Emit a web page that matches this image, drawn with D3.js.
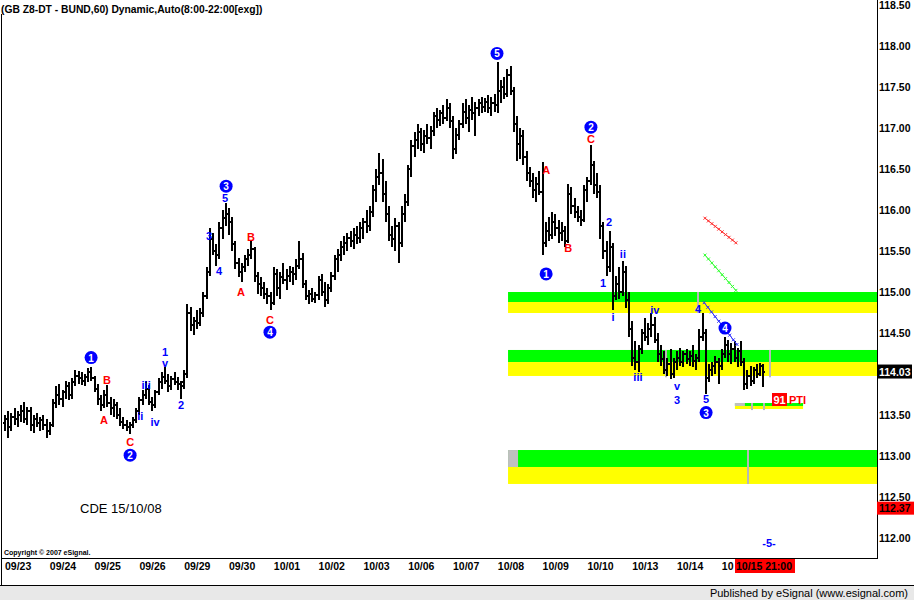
<!DOCTYPE html>
<html><head><meta charset="utf-8">
<script src="https://cdn.jsdelivr.net/npm/d3@7"></script>
<style>
html,body{margin:0;padding:0;background:#fff;}
svg{display:block;font-family:"Liberation Sans",Arial,sans-serif;}
</style></head><body>
<svg id="c" width="914" height="600"></svg>
<script>
// ---------------- DATA ----------------
const dateLabels = ["09/23","09/24","09/25","09/26","09/29","09/30","10/01","10/02","10/03","10/06","10/07","10/08","10/09","10/10","10/13","10/14","10/15"];
// hourly OHLC bars per session (8:00 .. 21:00), [open, high, low, close]
const bars0923 = [[113.40,113.50,113.30,113.45],[113.45,113.55,113.22,113.35],[113.35,113.52,113.30,113.48],[113.48,113.58,113.38,113.45],[113.45,113.55,113.35,113.50],[113.50,113.62,113.42,113.55],[113.55,113.66,113.40,113.45],[113.45,113.60,113.38,113.55],[113.55,113.60,113.30,113.38],[113.38,113.50,113.28,113.45],[113.45,113.52,113.35,113.40],[113.40,113.48,113.30,113.44],[113.44,113.50,113.32,113.38],[113.38,113.45,113.22,113.30]];
const bars0924 = [[113.30,113.42,113.25,113.38],[113.38,113.70,113.35,113.65],[113.65,113.85,113.58,113.75],[113.75,113.88,113.62,113.70],[113.70,113.80,113.60,113.78],[113.78,113.92,113.70,113.85],[113.85,113.90,113.68,113.74],[113.74,113.95,113.70,113.90],[113.90,114.05,113.85,113.98],[113.98,114.04,113.88,113.95],[113.95,114.02,113.86,113.92],[113.92,114.00,113.85,113.96],[113.96,114.07,113.90,114.02],[114.02,114.08,113.92,113.95]];
const bars0925 = [[113.95,113.98,113.78,113.82],[113.82,113.88,113.62,113.70],[113.70,113.75,113.55,113.62],[113.62,113.80,113.58,113.75],[113.75,113.86,113.60,113.65],[113.65,113.72,113.50,113.58],[113.58,113.70,113.48,113.62],[113.62,113.66,113.45,113.50],[113.50,113.58,113.36,113.42],[113.42,113.48,113.33,113.38],[113.38,113.44,113.30,113.35],[113.35,113.42,113.27,113.38],[113.38,113.48,113.34,113.44],[113.44,113.58,113.40,113.55]];
const bars0926 = [[113.55,113.72,113.50,113.68],[113.68,113.80,113.62,113.75],[113.75,113.92,113.70,113.82],[113.82,113.86,113.62,113.66],[113.66,113.72,113.55,113.62],[113.62,113.80,113.58,113.78],[113.78,113.95,113.74,113.90],[113.90,114.02,113.82,113.96],[113.96,114.08,113.88,113.92],[113.92,114.00,113.78,113.85],[113.85,113.98,113.80,113.94],[113.94,114.02,113.86,113.90],[113.90,113.96,113.80,113.88],[113.88,113.92,113.70,113.85]];
const bars0929 = [[113.90,114.05,113.82,114.00],[114.00,114.85,113.95,114.75],[114.75,114.82,114.52,114.60],[114.60,114.70,114.48,114.65],[114.65,114.78,114.55,114.62],[114.62,114.80,114.58,114.75],[114.75,115.00,114.70,114.95],[114.95,115.30,114.92,115.25],[115.25,115.78,115.20,115.65],[115.65,115.72,115.45,115.50],[115.50,115.58,115.32,115.45],[115.45,115.85,115.40,115.78],[115.78,116.00,115.65,115.90],[115.90,116.08,115.80,115.95]];
const bars0930 = [[115.95,116.02,115.70,115.85],[115.85,115.92,115.50,115.58],[115.58,115.62,115.28,115.35],[115.35,115.42,115.18,115.25],[115.25,115.35,115.12,115.30],[115.30,115.45,115.25,115.40],[115.40,115.52,115.32,115.45],[115.45,115.62,115.40,115.52],[115.52,115.55,115.12,115.20],[115.20,115.25,114.98,115.10],[115.10,115.18,114.95,115.05],[115.05,115.12,114.92,114.98],[114.98,115.05,114.85,114.95],[114.95,115.00,114.78,114.86]];
const bars1001 = [[114.86,115.30,114.84,115.22],[115.22,115.28,114.95,115.05],[115.05,115.25,114.92,115.18],[115.18,115.35,115.10,115.15],[115.15,115.28,115.02,115.20],[115.20,115.32,115.12,115.25],[115.25,115.30,115.08,115.22],[115.22,115.40,115.15,115.32],[115.32,115.62,115.28,115.40],[115.40,115.48,115.05,115.10],[115.10,115.15,114.90,114.95],[114.95,115.02,114.85,114.98],[114.98,115.05,114.88,114.92],[114.92,115.00,114.86,114.96]];
const bars1002 = [[114.96,115.20,114.90,115.15],[115.15,115.22,114.95,115.00],[115.00,115.12,114.82,114.90],[114.90,115.10,114.85,115.05],[115.05,115.25,115.00,115.20],[115.20,115.45,115.15,115.40],[115.40,115.52,115.25,115.45],[115.45,115.62,115.38,115.55],[115.55,115.68,115.45,115.60],[115.60,115.72,115.50,115.66],[115.66,115.75,115.55,115.62],[115.62,115.78,115.52,115.70],[115.70,115.80,115.58,115.66],[115.66,115.85,115.60,115.78]];
const bars1003 = [[115.78,115.90,115.65,115.85],[115.85,116.00,115.72,115.80],[115.80,116.05,115.75,115.98],[115.98,116.30,115.92,116.25],[116.25,116.50,116.10,116.40],[116.40,116.70,116.30,116.45],[116.45,116.62,116.10,116.20],[116.20,116.35,115.85,115.95],[115.95,116.05,115.62,115.70],[115.70,115.80,115.55,115.65],[115.65,115.90,115.50,115.80],[115.80,115.85,115.35,115.60],[115.60,116.05,115.55,115.95],[115.95,116.20,115.85,116.10]];
const bars1006 = [[116.10,116.55,116.05,116.50],[116.50,116.85,116.40,116.78],[116.78,116.95,116.65,116.85],[116.85,117.05,116.75,116.95],[116.95,117.00,116.72,116.80],[116.80,116.98,116.70,116.90],[116.90,117.05,116.80,116.88],[116.88,117.02,116.75,116.96],[116.96,117.20,116.90,117.15],[117.15,117.25,117.00,117.10],[117.10,117.22,117.02,117.18],[117.18,117.28,117.05,117.12],[117.12,117.35,117.08,117.25],[117.25,117.30,117.00,117.08]];
const bars1007 = [[117.08,117.15,116.62,116.75],[116.75,117.00,116.68,116.92],[116.92,117.10,116.85,117.05],[117.05,117.30,117.00,117.20],[117.20,117.35,117.05,117.12],[117.12,117.28,116.95,117.22],[117.22,117.38,117.10,117.18],[117.18,117.32,116.90,117.25],[117.25,117.35,117.15,117.30],[117.30,117.38,117.18,117.26],[117.26,117.36,117.20,117.32],[117.32,117.40,117.18,117.25],[117.25,117.38,117.15,117.30],[117.30,117.42,117.20,117.28]];
const bars1008 = [[117.28,117.80,117.18,117.45],[117.45,117.58,117.30,117.50],[117.50,117.62,117.35,117.42],[117.42,117.72,117.38,117.65],[117.65,117.75,117.40,117.45],[117.45,117.50,116.95,117.05],[117.05,117.15,116.60,116.80],[116.80,117.00,116.62,116.90],[116.90,116.98,116.55,116.65],[116.65,116.72,116.35,116.45],[116.45,116.52,116.28,116.35],[116.35,116.45,116.15,116.25],[116.25,116.40,116.10,116.32],[116.32,116.48,116.18,116.22]];
const bars1009 = [[116.22,116.58,115.45,115.60],[115.60,115.85,115.55,115.75],[115.75,115.92,115.62,115.70],[115.70,115.98,115.65,115.85],[115.85,115.95,115.68,115.78],[115.78,115.88,115.60,115.72],[115.72,115.85,115.62,115.75],[115.75,115.80,115.55,115.62],[115.62,116.32,115.60,116.20],[116.20,116.28,115.95,116.05],[116.05,116.15,115.90,115.98],[115.98,116.05,115.85,115.92],[115.92,116.00,115.80,115.88],[115.88,116.30,115.85,116.25]];
const bars1010 = [[116.25,116.40,116.10,116.35],[116.35,116.79,116.30,116.55],[116.55,116.60,116.20,116.30],[116.30,116.45,116.15,116.22],[116.22,116.30,115.65,115.80],[115.80,115.85,115.40,115.50],[115.50,115.62,115.20,115.30],[115.30,115.75,115.25,115.55],[115.55,115.60,114.78,114.95],[114.95,115.20,114.90,115.10],[115.10,115.30,114.92,115.00],[115.00,115.38,114.95,115.25],[115.25,115.32,114.80,114.90],[114.90,115.00,114.45,114.55]];
const bars1013 = [[114.55,114.65,114.10,114.20],[114.20,114.40,114.05,114.15],[114.15,114.35,114.03,114.30],[114.30,114.55,114.25,114.50],[114.50,114.68,114.40,114.45],[114.45,114.62,114.35,114.55],[114.55,114.74,114.45,114.60],[114.60,114.70,114.38,114.42],[114.42,114.50,114.15,114.25],[114.25,114.35,114.10,114.18],[114.18,114.28,114.00,114.05],[114.05,114.20,113.98,114.12],[114.12,114.30,113.94,114.00],[114.00,114.20,113.95,114.15]];
const bars1014 = [[114.15,114.28,114.05,114.20],[114.20,114.32,114.10,114.15],[114.15,114.28,114.08,114.24],[114.24,114.30,114.12,114.18],[114.18,114.28,114.10,114.22],[114.22,114.35,114.08,114.16],[114.16,114.25,114.05,114.20],[114.20,114.55,114.15,114.45],[114.45,114.74,114.40,114.50],[114.50,114.55,113.76,113.95],[113.95,114.12,113.90,114.05],[114.05,114.15,113.98,114.10],[114.10,114.22,114.00,114.15],[114.15,114.20,113.88,114.10]];
const bars1015 = [[114.10,114.30,114.05,114.25],[114.25,114.45,114.20,114.35],[114.35,114.42,114.15,114.25],[114.25,114.38,114.12,114.30],[114.30,114.40,114.15,114.20],[114.20,114.32,114.08,114.28],[114.28,114.40,114.10,114.15],[114.15,114.20,113.80,113.88],[113.88,114.05,113.82,113.98],[113.98,114.10,113.85,113.92],[113.92,114.08,113.88,114.05],[114.05,114.12,113.95,114.00],[114.00,114.14,113.98,114.10],[114.10,114.12,113.84,114.03]];
const sessions = [bars0923,bars0924,bars0925,bars0926,bars0929,bars0930,bars1001,bars1002,bars1003,bars1006,bars1007,bars1008,bars1009,bars1010,bars1013,bars1014,bars1015];

const priceTicks = [118.5,118,117.5,117,116.5,116,115.5,115,114.5,113.5,113,112.5,112];
const lastPrice = 114.03;
const markerPrice = 112.37;
const lastBarLabel = "10/15 21:00";

// Elliott wave annotations: [bar index, price, text]
const circleLabels = [[26.9,114.20,"1"],[39.1,113.01,"2"],[69.1,116.29,"3"],[82.8,114.51,"4"],[153.75,117.91,"5"],[169.1,115.22,"1"],[183.1,117.01,"2"],[219.1,113.53,"3"],[225.0,114.56,"4"]];
const redLabels = [[31.9,113.93,"B"],[30.9,113.44,"A"],[39.1,113.17,"C"],[76.9,115.67,"B"],[73.75,115.00,"A"],[82.8,114.66,"C"],[169.1,116.49,"A"],[176.0,115.54,"B"],[183.1,116.87,"C"]];
const blueLabels = [[44.1,113.87,"iii"],[42.3,113.49,"ii"],[46.9,113.41,"iv"],[50.0,114.13,"v"],[50.0,114.27,"1"],[55.0,113.62,"2"],[63.75,115.68,"3"],[66.9,115.26,"4"],[68.75,116.15,"5"],[186.9,115.11,"1"],[188.75,115.85,"2"],[190.0,114.69,"i"],[193.1,115.46,"ii"],[197.8,113.96,"iii"],[203.1,114.78,"iv"],[210.0,113.85,"v"],[210.0,113.68,"3"],[216.6,114.79,"4"],[219.1,113.69,"5"],[238.75,111.94,"-5-"]];

// target zones
const zoneStarts = [157.2,157.2,157.2,228.1];
const zoneGreenTop = [115.00,114.293,113.073,113.646];
const zoneMid = [114.878,114.146,112.866,113.61];
const zoneYellowBottom = [114.744,113.976,112.659,113.573];
const zoneEnds = [null,null,null,249.4];
// grey time markers: [bar index, top price, bottom price]
const greyMarks = [[216.6,115.00,114.744],[206.6,114.293,113.96],[239.1,114.293,113.96],[232.3,113.073,112.659],[233.3,113.646,113.56],[237.3,113.646,113.56]];
// projection lines: [bar start, price start, bar end, price end]
const projRed = [218.75,115.90,228.4,115.60];
const projGreen = [218.75,115.45,228.4,115.02];
const projBlue = [218.5,114.87,228.75,114.36];

// ---------------- DRAW ----------------
const svg = d3.select("#c");
const W = 914, H = 600, plotRight = 877, plotBottom = 558;
const nBars = sessions.length * 14;
const x = d3.scaleLinear().domain([0, 1]).range([5, 8.2]);
const y = d3.scaleLinear().domain([112, 118]).range([538, 46]);

svg.append("rect").attr("width", W).attr("height", H).attr("fill", "#fff");

const plot = svg.append("g");
plot.append("clipPath").attr("id","pc").append("rect").attr("x",2).attr("y",0).attr("width",plotRight-2).attr("height",plotBottom);
const pg = plot.append("g").attr("clip-path","url(#pc)");

// zones
zoneStarts.forEach((s, k) => {
  const x0 = x(s), x1 = zoneEnds[k] == null ? plotRight : x(zoneEnds[k]);
  pg.append("rect").attr("x", x0).attr("width", x1 - x0).attr("y", y(zoneGreenTop[k])).attr("height", y(zoneMid[k]) - y(zoneGreenTop[k])).attr("fill", "#00ff00");
  pg.append("rect").attr("x", x0).attr("width", x1 - x0).attr("y", y(zoneMid[k])).attr("height", y(zoneYellowBottom[k]) - y(zoneMid[k])).attr("fill", "#ffff00");
});
pg.append("rect").attr("x", x(zoneStarts[2])).attr("width", 10).attr("y", y(zoneGreenTop[2])).attr("height", y(zoneMid[2]) - y(zoneGreenTop[2])).attr("fill", "#c0c0c0");
pg.append("rect").attr("x", x(zoneStarts[3])).attr("width", 10).attr("y", y(zoneGreenTop[3])).attr("height", y(zoneMid[3]) - y(zoneGreenTop[3])).attr("fill", "#c0c0c0");
greyMarks.forEach(g => {
  pg.append("rect").attr("x", Math.round(x(g[0])) - 1).attr("width", 2).attr("y", y(g[1])).attr("height", y(g[2]) - y(g[1])).attr("fill", "#b8b8b8");
});

// bars
const flat = [];
sessions.forEach((s, d) => s.forEach((b, j) => flat.push({i: d * 14 + j, o: b[0], h: b[1], l: b[2], c: b[3]})));
const bg = pg.append("g").attr("fill", "#000");
flat.forEach(b => {
  const cx = Math.round(x(b.i));
  const yh = Math.round(y(b.h)), yl = Math.round(y(b.l));
  bg.append("rect").attr("x", cx - 1).attr("y", yh).attr("width", 2).attr("height", Math.max(1, yl - yh));
  bg.append("rect").attr("x", cx - 2).attr("y", Math.round(y(b.o)) - 1).attr("width", 1).attr("height", 2);
  bg.append("rect").attr("x", cx + 1).attr("y", Math.round(y(b.c)) - 1).attr("width", 1).attr("height", 2);
});

// projection lines
function proj(p, col) {
  const x0 = x(p[0]), y0 = y(p[1]), x1 = x(p[2]), y1 = y(p[3]);
  pg.append("line").attr("x1", x0).attr("y1", y0).attr("x2", x1).attr("y2", y1).attr("stroke", col).attr("stroke-width", 1);
  const n = 9;
  for (let k = 0; k <= n; k++) {
    const px = x0 + (x1 - x0) * k / n, py = y0 + (y1 - y0) * k / n;
    pg.append("path").attr("d", `M${px-1.5},${py-1.5}L${px+1.5},${py+1.5}M${px-1.5},${py+1.5}L${px+1.5},${py-1.5}`).attr("stroke", col).attr("stroke-width", 1);
  }
}
proj(projRed, "#ff3030");
proj(projGreen, "#30ff30");
proj(projBlue, "#3030ff");

// wave labels
const lab = pg.append("g").attr("font-size", "11px").attr("font-weight", "bold").attr("text-anchor", "middle").attr("dominant-baseline", "central");
redLabels.forEach(l => lab.append("text").attr("x", x(l[0])).attr("y", y(l[1])).attr("fill", "#ff0000").text(l[2]));
blueLabels.forEach(l => lab.append("text").attr("x", x(l[0])).attr("y", y(l[1])).attr("fill", "#0000ff").text(l[2]));
circleLabels.forEach(l => {
  lab.append("circle").attr("cx", x(l[0])).attr("cy", y(l[1])).attr("r", 6.5).attr("fill", "#0000ff");
  lab.append("text").attr("x", x(l[0])).attr("y", y(l[1]) + 0.5).attr("fill", "#fff").attr("font-size", "10px").text(l[2]);
});

// PTI box
pg.append("rect").attr("x", 772).attr("y", 393).attr("width", 15).attr("height", 13).attr("fill", "#ff0000");
pg.append("text").attr("x", 779.5).attr("y", 400).attr("text-anchor","middle").attr("dominant-baseline","central").attr("fill","#fff").attr("font-size","11px").attr("font-weight","bold").text("91");
pg.append("text").attr("x", 789).attr("y", 400).attr("dominant-baseline","central").attr("fill","#ff0000").attr("font-size","11px").attr("font-weight","bold").text("PTI");

// texts
svg.append("text").attr("x", 80).attr("y", 513).attr("font-size", "13px").attr("fill", "#000").text("CDE 15/10/08");
svg.append("text").attr("x", 4).attr("y", 555).attr("font-size", "7px").attr("font-weight","bold").attr("fill", "#000").text("Copyright © 2007 eSignal.");
svg.append("text").attr("x", 1).attr("y", 13).attr("font-size", "10.3px").attr("font-weight", "bold").attr("fill", "#000").text("(GB Z8-DT - BUND,60) Dynamic,Auto(8:00-22:00[exg])");

// frame
svg.append("line").attr("x1", 1.5).attr("x2", 1.5).attr("y1", 14).attr("y2", 586).attr("stroke", "#000");
svg.append("line").attr("x1", plotRight + 0.5).attr("x2", plotRight + 0.5).attr("y1", 0).attr("y2", plotBottom).attr("stroke", "#000");
svg.append("line").attr("x1", 1).attr("x2", plotRight + 1).attr("y1", plotBottom + 0.5).attr("y2", plotBottom + 0.5).attr("stroke", "#000");
svg.append("line").attr("x1", 0).attr("x2", W).attr("y1", 585.5).attr("y2", 585.5).attr("stroke", "#000");
svg.append("rect").attr("x", 0).attr("y", 586).attr("width", W).attr("height", 14).attr("fill", "#e8e8e8");
svg.append("text").attr("x", 908).attr("y", 597).attr("text-anchor","end").attr("font-size","11px").attr("fill","#000").text("Published by eSignal (www.esignal.com)");

// right axis
const ya = svg.append("g").attr("font-size", "10.5px").attr("font-weight", "bold");
priceTicks.forEach(t => ya.append("text").attr("x", 879).attr("y", y(t)).attr("dominant-baseline","central").text(d3.format(".2f")(t)));
ya.append("rect").attr("x", 877).attr("y", y(lastPrice) - 7).attr("width", 35).attr("height", 14).attr("fill", "#000");
ya.append("text").attr("x", 879).attr("y", y(lastPrice)).attr("dominant-baseline","central").attr("fill","#fff").text(d3.format(".2f")(lastPrice));
ya.append("rect").attr("x", 877).attr("y", y(markerPrice) - 6).attr("width", 37).attr("height", 13).attr("fill", "#ff0000");
ya.append("text").attr("x", 879).attr("y", y(markerPrice)).attr("dominant-baseline","central").attr("fill","#000").text(d3.format(".2f")(markerPrice));

// x axis labels (the last session's label is mostly hidden by the last-bar marker)
const xa = svg.append("g").attr("font-size", "10.5px").attr("font-weight", "bold");
dateLabels.forEach((d, k) => {
  const txt = k === dateLabels.length - 1 ? d.split("/")[0] : d;
  xa.append("text").attr("x", x(k * 14)).attr("y", 570).text(txt);
});
xa.append("rect").attr("x", 735).attr("y", 559).attr("width", 60).attr("height", 14).attr("fill", "#ff0000");
xa.append("text").attr("x", 736).attr("y", 570).text(lastBarLabel);
</script></body></html>
